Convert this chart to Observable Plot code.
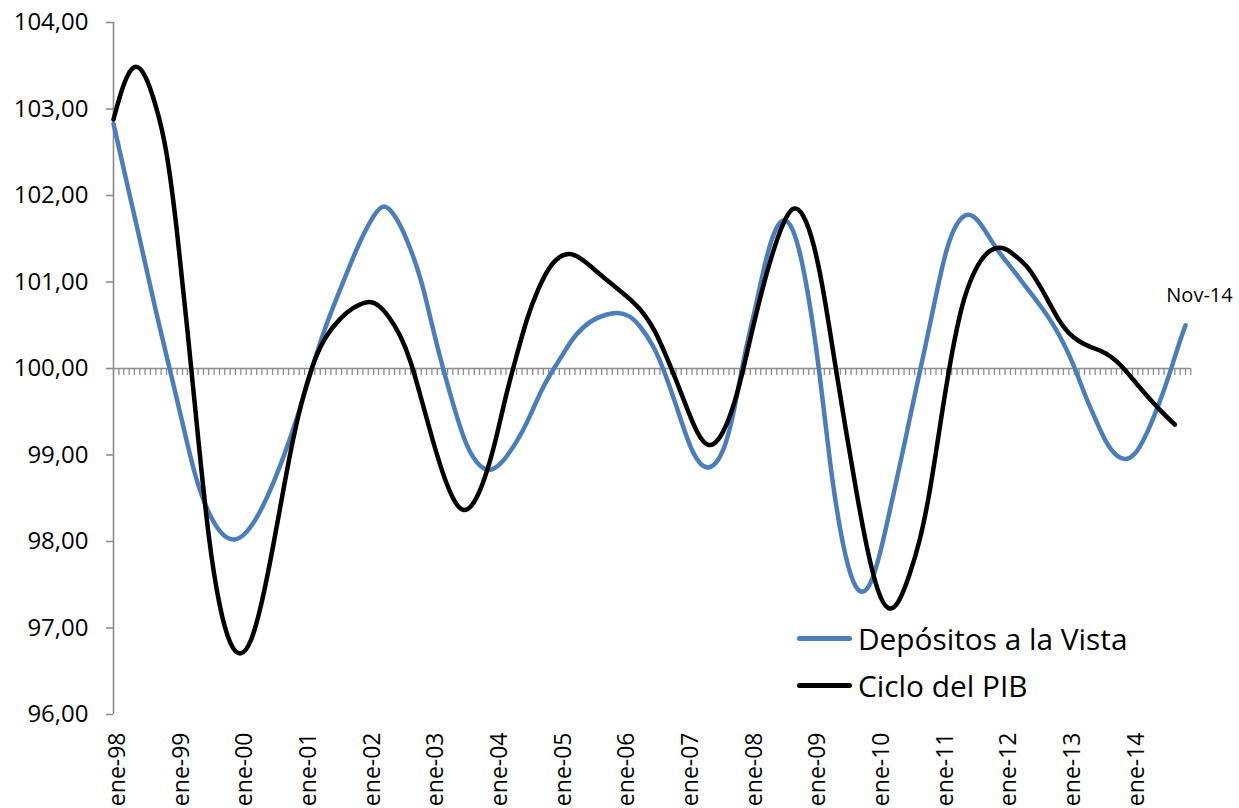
<!DOCTYPE html>
<html><head><meta charset="utf-8">
<script src="https://cdn.jsdelivr.net/npm/d3@7"></script>
<script src="https://cdn.jsdelivr.net/npm/@observablehq/plot@0.6"></script>
<style>
body{margin:0;background:#fff;font-family:"Open Sans",sans-serif}
#wrap{position:relative;width:1239px;height:808px;overflow:hidden;background:#fff}
#legend{position:absolute;left:797px;top:615px;font-size:29.8px;color:#000;line-height:47px}
#legend .row{display:flex;align-items:center;height:47px;white-space:nowrap}
#legend .sw{width:55px;height:5px;border-radius:2.5px;margin-right:6px}
</style></head><body>
<div id="wrap"><div id="chart"></div><div id="legend"></div></div>
<script>
// ---- data ----
const seriesNames = ["Depósitos a la Vista", "Ciclo del PIB"];
const seriesColors = ["#4a7ebb", "#000000"];

const depMonths = ["1998-01","1998-03","1998-06","1998-09","1998-12","1999-02","1999-04","1999-06","1999-09","1999-12",
"2000-03","2000-06","2000-09","2000-12","2001-02","2001-05","2001-08","2001-11","2002-02","2002-04","2002-06","2002-08","2002-11",
"2003-01","2003-03","2003-06","2003-08","2003-11","2004-01","2004-03","2004-06","2004-08","2004-10","2004-12",
"2005-02","2005-04","2005-07","2005-10","2005-12","2006-02","2006-04","2006-07","2006-09","2006-12",
"2007-02","2007-05","2007-08","2007-10","2007-12","2008-02","2008-04","2008-06","2008-08","2008-10","2008-12",
"2009-02","2009-04","2009-06","2009-08","2009-10","2009-12","2010-02","2010-04","2010-06","2010-08","2010-10","2010-12",
"2011-02","2011-04","2011-06","2011-08","2011-10","2011-12","2012-02","2012-04","2012-06","2012-08","2012-10","2012-12",
"2013-02","2013-04","2013-06","2013-08","2013-10","2013-12","2014-02","2014-04","2014-06","2014-08","2014-10","2014-11"];
const depValues = [102.83,102.30,101.50,100.65,99.90,99.37,98.85,98.45,98.08,97.98,
98.15,98.50,98.96,99.50,99.93,100.50,100.95,101.42,101.78,101.92,101.78,101.55,101.05,
100.50,100.03,99.38,99.02,98.80,98.84,98.96,99.25,99.52,99.80,100.00,
100.20,100.39,100.56,100.63,100.65,100.62,100.52,100.25,99.94,99.40,
99.01,98.78,99.00,99.50,100.20,100.70,101.30,101.68,101.76,101.47,100.85,
99.98,98.90,98.08,97.55,97.36,97.52,98.00,98.55,99.10,99.70,100.25,100.85,
101.42,101.70,101.81,101.72,101.52,101.33,101.18,101.02,100.86,100.70,100.52,100.30,
100.03,99.70,99.42,99.14,98.98,98.93,99.04,99.28,99.58,99.93,100.33,100.50];

const pibMonths = ["1998-01","1998-03","1998-05","1998-07","1998-09","1998-11","1999-01","1999-03","1999-05","1999-07","1999-09","1999-11",
"2000-01","2000-03","2000-05","2000-07","2000-09","2000-11","2001-01","2001-03","2001-05","2001-08","2001-10",
"2002-01","2002-03","2002-05","2002-07","2002-09","2002-11","2003-01","2003-03","2003-05","2003-07","2003-09","2003-11",
"2004-01","2004-03","2004-05","2004-07","2004-09","2004-11","2005-01","2005-03","2005-05","2005-07","2005-09","2005-11",
"2006-01","2006-03","2006-05","2006-07","2006-09","2006-11","2007-01","2007-03","2007-05","2007-07","2007-09","2007-11",
"2008-01","2008-03","2008-05","2008-07","2008-09","2008-11","2009-01","2009-03","2009-05","2009-07","2009-09","2009-11",
"2010-01","2010-03","2010-05","2010-07","2010-09","2010-11","2011-01","2011-03","2011-05","2011-07","2011-09","2011-11",
"2012-01","2012-03","2012-05","2012-07","2012-09","2012-11","2013-01","2013-03","2013-05","2013-07","2013-09","2013-11",
"2014-01","2014-03","2014-05","2014-07","2014-09"];
const pibValues = [102.88,103.32,103.54,103.42,103.05,102.57,101.60,100.45,99.20,98.00,97.22,96.78,
96.66,96.82,97.28,97.90,98.60,99.25,99.75,100.12,100.38,100.60,100.70,
100.79,100.74,100.60,100.40,100.10,99.65,99.20,98.80,98.48,98.32,98.43,98.72,
99.15,99.70,100.15,100.60,100.92,101.17,101.30,101.34,101.28,101.18,101.07,100.97,
100.87,100.77,100.64,100.45,100.17,99.87,99.55,99.25,99.08,99.15,99.40,99.80,
100.35,100.85,101.30,101.66,101.90,101.80,101.45,100.85,100.05,99.30,98.56,97.90,
97.40,97.18,97.27,97.60,98.00,98.62,99.45,100.18,100.77,101.10,101.31,101.40,
101.40,101.30,101.20,101.02,100.80,100.56,100.40,100.31,100.25,100.21,100.14,100.03,
99.88,99.74,99.60,99.47,99.35];

const yTicks = [96, 97, 98, 99, 100, 101, 102, 103, 104];
const yearTicks = ["1998-01","1999-01","2000-01","2001-01","2002-01","2003-01","2004-01","2005-01","2006-01",
"2007-01","2008-01","2009-01","2010-01","2011-01","2012-01","2013-01","2014-01"];
const lastLabel = "Nov-14";

// ---- build ----
const parse = d3.utcParse("%Y-%m");
const dep = depMonths.map((m, i) => ({date: parse(m), value: depValues[i]}));
const pib = pibMonths.map((m, i) => ({date: parse(m), value: pibValues[i]}));
const start = parse("1998-01");
const axisEnd = parse("2014-12");
const monthTicks = d3.utcMonth.range(start, d3.utcMonth.offset(axisEnd, 1));
const fmtY = d => d.toFixed(2).replace(".", ",");
const fmtX = d => "ene-" + d3.utcFormat("%y")(d);
const grey = "#8c8c8c";

const chart = Plot.plot({
  width: 1239, height: 808,
  marginLeft: 113, marginRight: 54, marginTop: 22, marginBottom: 94,
  style: {fontFamily: "'Open Sans', sans-serif", fontSize: "23px", color: "#000", background: "#fff", overflow: "visible"},
  x: {type: "utc", domain: [start, parse("2014-11")]},
  y: {domain: [96, 104]},
  marks: [
    Plot.ruleY([100], {x1: start, x2: axisEnd, stroke: grey, strokeWidth: 1.6}),
    Plot.ruleX(monthTicks, {x: d => d, y1: 100, y2: 100, insetBottom: -7, stroke: grey, strokeWidth: 1.3}),
    Plot.ruleX([start], {y1: 96, y2: 104, stroke: grey, strokeWidth: 1.6}),
    Plot.axisY({ticks: yTicks, tickSize: 7, tickPadding: 18, tickFormat: fmtY, stroke: grey, strokeWidth: 1.6, fill: "#000", fontSize: 24, label: null}),
    Plot.axisX({ticks: yearTicks.map(parse), tickSize: 0, tickPadding: 18, tickRotate: -90, tickFormat: fmtX, fontSize: 23, fill: "#000", label: null, dx: 4}),
    Plot.line(dep, {x: "date", y: "value", stroke: seriesColors[0], strokeWidth: 4.5, curve: "basis"}),
    Plot.line(pib, {x: "date", y: "value", stroke: seriesColors[1], strokeWidth: 4.5, curve: "basis"}),
    Plot.text([dep[dep.length - 1]], {x: "date", y: "value", text: () => lastLabel, dx: 14, dy: -30, fontSize: 20, fill: "#000"})
  ]
});
document.getElementById("chart").appendChild(chart);

const legend = document.getElementById("legend");
seriesNames.forEach((n, i) => {
  const row = document.createElement("div");
  row.className = "row";
  const sw = document.createElement("span");
  sw.className = "sw";
  sw.style.background = seriesColors[i];
  const t = document.createElement("span");
  t.textContent = n;
  row.appendChild(sw); row.appendChild(t);
  legend.appendChild(row);
});
</script>
</body></html>
